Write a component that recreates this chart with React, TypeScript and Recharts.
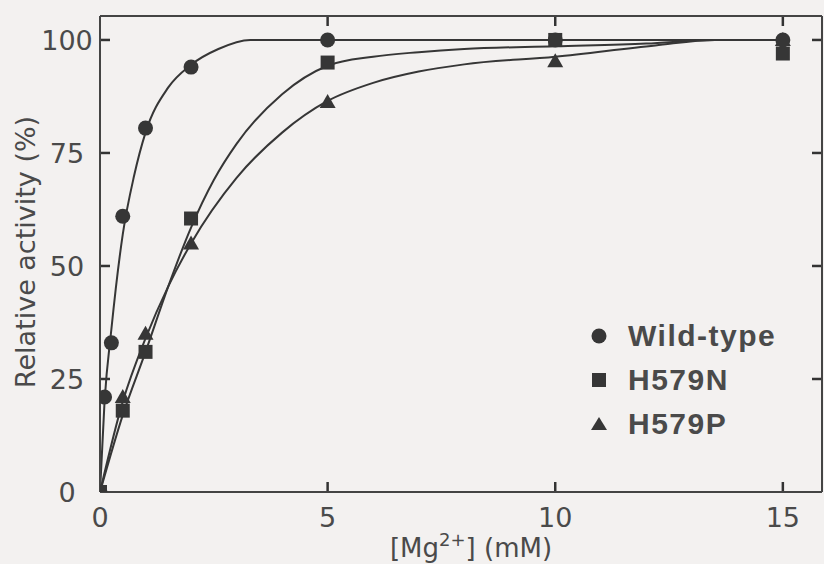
import React from "react";
import {
  ComposedChart,
  Line,
  Scatter,
  XAxis,
  YAxis,
  Legend,
  Label,
  ReferenceLine,
} from "recharts";

const mgTicks = [0, 5, 10, 15];
const innerMgTicks = [5, 10, 15];
const activityTicks = [0, 25, 50, 75, 100];
const innerActivityTicks = [25, 50, 75, 100];
const seriesNames = ["Wild-type", "H579N", "H579P"];

// measured points
const wildTypeConc = [0, 0.1, 0.25, 0.5, 1, 2, 5, 10, 15];
const wildTypeActivity = [0, 21, 33, 61, 80.5, 94, 100, 100, 100];
const mutantConc = [0, 0.5, 1, 2, 5, 10, 15];
const h579nActivity = [0, 18, 31, 60.5, 95, 100, 97];
const h579pActivity = [0, 21, 35, 55, 86.3, 95.3, 100];

// fitted saturation curves
const wildTypeFitConc = [0, 0.1, 0.25, 0.5, 0.75, 1, 1.5, 2, 2.6, 3.3, 15];
const wildTypeFit = [0, 20, 36, 57, 70, 79.5, 89.5, 94.5, 98, 100, 100];
const h579nFitConc = [0, 0.5, 1, 1.5, 2, 2.5, 3, 4, 5, 6, 7, 8, 10, 12, 13.5, 15];
const h579nFit = [0, 17, 31, 45.5, 58.5, 69, 77, 88, 94.3, 96.3, 97.3, 98, 98.6, 99.2, 100, 100];
const h579pFitConc = [0, 0.5, 1, 1.5, 2, 3, 4, 5, 6, 7, 8, 10, 12.2, 13.5, 15];
const h579pFit = [0, 20, 34, 45.5, 55, 69.5, 79.5, 86.5, 90.5, 93, 94.6, 96.3, 98.8, 100, 100];

const zip = (xs: number[], ys: number[]) => xs.map((x, i) => ({ x, y: ys[i] }));

const X_MAX = 15.86;
const Y_MAX = 105.3;
const PLOT_W = 722;
const PLOT_H = 476;
const TICK_LEN = 10;
// inward tick length expressed in axis units
const xTick = (X_MAX * TICK_LEN) / PLOT_W;
const yTick = (Y_MAX * TICK_LEN) / PLOT_H;

const ink = "#363636";
const textInk = "#4a4a4a";
const tickFont = "'DejaVu Sans', sans-serif";
const frame = { stroke: "#444", strokeWidth: 2 };

const circleShape = (p: any) => <circle cx={p.cx} cy={p.cy} r={7.5} fill={ink} />;
const squareShape = (p: any) => (
  <rect x={p.cx - 7} y={p.cy - 7} width={14} height={14} fill={ink} />
);
const triangleShape = (p: any) => (
  <polygon
    points={`${p.cx},${p.cy - 8} ${p.cx + 8},${p.cy + 6} ${p.cx - 8},${p.cy + 6}`}
    fill={ink}
  />
);

const BottomTick = (p: any) => (
  <text
    x={p.x}
    y={p.y + 25}
    dy="0.36em"
    textAnchor="middle"
    fontFamily={tickFont}
    fontSize={27}
    fill={textInk}
  >
    {p.payload.value}
  </text>
);

const LeftTick = (p: any) => (
  <text
    x={p.x - 33}
    y={p.y}
    dy="0.36em"
    textAnchor="middle"
    fontFamily={tickFont}
    fontSize={27}
    fill={textInk}
  >
    {p.payload.value}
  </text>
);

const NoLabel = () => <g />;

const XTitle = () => (
  <text x={471} y={557} textAnchor="middle" fontFamily={tickFont} fontSize={26} fill={textInk}>
    [Mg
    <tspan dy={-11} fontSize={18}>
      2+
    </tspan>
    <tspan dy={11}>] (mM)</tspan>
  </text>
);

const YTitle = () => (
  <text
    x={25}
    y={252}
    transform="rotate(-90 25 252)"
    textAnchor="middle"
    dominantBaseline="central"
    fontFamily={tickFont}
    fontSize={27}
    fill={textInk}
  >
    Relative activity (%)
  </text>
);

const legendMarker = (i: number) => {
  if (i === 0) return <circle cx={9} cy={9} r={7.5} fill={ink} />;
  if (i === 1) return <rect x={2} y={2} width={14} height={14} fill={ink} />;
  return <polygon points="9,2 17,15 1,15" fill={ink} />;
};

const LegendBox = () => (
  <div style={{ fontFamily: "'Liberation Sans', Arial, sans-serif" }}>
    {seriesNames.map((name, i) => (
      <div key={name} style={{ display: "flex", alignItems: "center", height: 44 }}>
        <svg width={18} height={18}>
          {legendMarker(i)}
        </svg>
        <span
          style={{
            marginLeft: 20,
            fontSize: 30,
            lineHeight: "44px",
            fontWeight: 700,
            letterSpacing: 1.5,
            color: textInk,
          }}
        >
          {name}
        </span>
      </div>
    ))}
  </div>
);

const axisCommon = {
  type: "number" as const,
  allowDataOverflow: true,
  mirror: true,
  axisLine: frame,
  tickLine: false,
  tickSize: 0,
  tickMargin: 0,
};

export default function App() {
  return (
    <div style={{ background: "#f3f1f0", width: 824, height: 564 }}>
      <style>{`body{margin:0;overflow:hidden;background:#f3f1f0}`}</style>
      <ComposedChart
        width={824}
        height={564}
        margin={{ top: 16, right: 2, bottom: 72, left: 100 }}
      >
        <XAxis {...axisCommon} dataKey="x" domain={[0, X_MAX]} ticks={mgTicks} height={72} tick={BottomTick}>
          <Label content={XTitle} />
        </XAxis>
        <XAxis
          {...axisCommon}
          xAxisId="top"
          orientation="top"
          dataKey="x"
          domain={[0, X_MAX]}
          ticks={innerMgTicks}
          height={1}
          tick={NoLabel}
        />
        <YAxis {...axisCommon} domain={[0, Y_MAX]} ticks={activityTicks} width={100} tick={LeftTick}>
          <Label content={YTitle} />
        </YAxis>
        <YAxis
          {...axisCommon}
          yAxisId="right"
          orientation="right"
          domain={[0, Y_MAX]}
          ticks={activityTicks}
          width={1}
          tick={NoLabel}
        />
        <Legend
          layout="vertical"
          align="center"
          verticalAlign="middle"
          wrapperStyle={{ left: 590, top: 314, width: 230 }}
          content={LegendBox}
        />

        {/* inward tick marks on all four sides of the frame */}
        {innerMgTicks.map((t) => (
          <ReferenceLine
            key={`b${t}`}
            segment={[{ x: t, y: 0 }, { x: t, y: yTick }]}
            ifOverflow="visible"
            stroke="#333"
            strokeWidth={2.5}
          />
        ))}
        {innerMgTicks.map((t) => (
          <ReferenceLine
            key={`t${t}`}
            segment={[{ x: t, y: Y_MAX }, { x: t, y: Y_MAX - yTick }]}
            ifOverflow="visible"
            stroke="#333"
            strokeWidth={2.5}
          />
        ))}
        {innerActivityTicks.map((t) => (
          <ReferenceLine
            key={`l${t}`}
            segment={[{ x: 0, y: t }, { x: xTick, y: t }]}
            ifOverflow="visible"
            stroke="#333"
            strokeWidth={2.5}
          />
        ))}
        {innerActivityTicks.map((t) => (
          <ReferenceLine
            key={`r${t}`}
            segment={[{ x: X_MAX, y: t }, { x: X_MAX - xTick, y: t }]}
            ifOverflow="visible"
            stroke="#333"
            strokeWidth={2.5}
          />
        ))}

        {/* keeps the top and right frame axes bound to the same scales */}
        <Line
          xAxisId="top"
          yAxisId="right"
          data={zip(wildTypeFitConc, wildTypeFit)}
          dataKey="y"
          stroke="none"
          dot={false}
          legendType="none"
          isAnimationActive={false}
        />
        <Line
          data={zip(wildTypeFitConc, wildTypeFit)}
          dataKey="y"
          type="monotone"
          dot={false}
          stroke={ink}
          strokeWidth={2}
          isAnimationActive={false}
        />
        <Line
          data={zip(h579nFitConc, h579nFit)}
          dataKey="y"
          type="monotone"
          dot={false}
          stroke={ink}
          strokeWidth={2}
          isAnimationActive={false}
        />
        <Line
          data={zip(h579pFitConc, h579pFit)}
          dataKey="y"
          type="monotone"
          dot={false}
          stroke={ink}
          strokeWidth={2}
          isAnimationActive={false}
        />
        <Scatter
          name="H579P"
          data={zip(mutantConc, h579pActivity)}
          dataKey="y"
          shape={triangleShape}
          isAnimationActive={false}
        />
        <Scatter
          name="Wild-type"
          data={zip(wildTypeConc, wildTypeActivity)}
          dataKey="y"
          shape={circleShape}
          isAnimationActive={false}
        />
        <Scatter
          name="H579N"
          data={zip(mutantConc, h579nActivity)}
          dataKey="y"
          shape={squareShape}
          isAnimationActive={false}
        />
      </ComposedChart>
    </div>
  );
}
